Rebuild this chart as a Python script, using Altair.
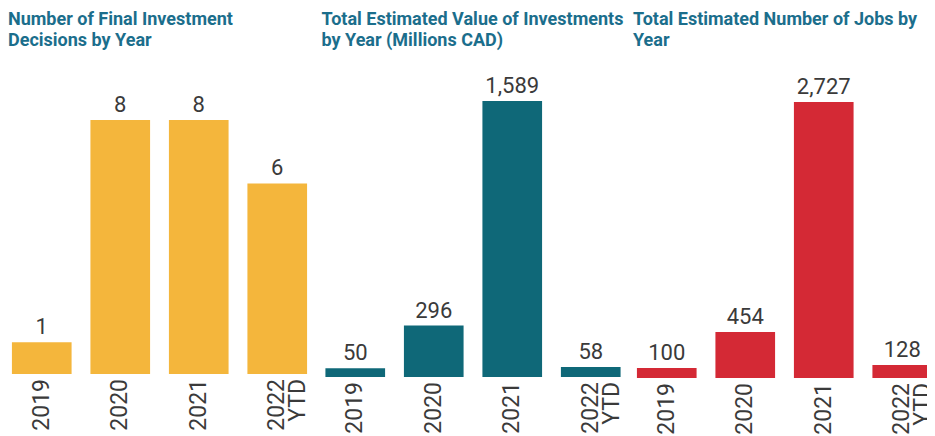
import altair as alt
import pandas as pd

years = ["2019", "2020", "2021", "2022 YTD"]
fids = [1, 8, 8, 6]
values = [50, 296, 1589, 58]
jobs = [100, 454, 2727, 128]

titles = [
    ["Number of Final Investment", "Decisions by Year"],
    ["Total Estimated Value of Investments", "by Year (Millions CAD)"],
    ["Total Estimated Number of Jobs by", "Year"],
]
colors = ["#F4B63C", "#0F6878", "#D42935"]
# y-scale domains (room above bars, room below baseline for the year labels)
ydomains = [[-2.110, 9.669], [-368.5, 1784.8], [-622.5, 3072.8]]
widths = [305, 303, 294]

H = 374


def panel(vals, title, color, ydom, w):
    df = pd.DataFrame({"year": years, "v": vals})
    x = alt.X(
        "year:N",
        sort=years,
        title=None,
        axis=None,
        scale=alt.Scale(range=[0, 303], paddingInner=0.24, paddingOuter=0.05),
    )
    y = alt.Y("v:Q", scale=alt.Scale(domain=ydom, nice=False, zero=True), axis=None)
    base = alt.Chart(df).encode(x=x)
    bars = base.mark_bar(color=color, clip=True).encode(y=y)
    vlabels = base.mark_text(
        baseline="alphabetic", dy=-8, fontSize=22, font="Roboto", color="#3a3a3a", clip=True
    ).encode(y=y, text=alt.Text("v:Q", format=",d"))
    xlabels = base.mark_text(
        angle=270,
        align="right",
        baseline="middle",
        dx=-5,
        fontSize=23,
        lineHeight=21,
        lineBreak=" ",
        font="Roboto",
        color="#3a3a3a",
        clip=True,
    ).encode(y=alt.datum(0, scale=alt.Scale(domain=ydom, nice=False)), text="year:N")
    return alt.layer(bars, vlabels, xlabels).properties(
        width=w,
        height=H,
        title=alt.TitleParams(
            text=title,
            anchor="start",
            fontSize=18,
            font="Roboto",
            fontWeight="bold",
            color="#1B6E8C",
            lineHeight=21,
            baseline="alphabetic",
            offset=3,
        ),
    )


chart = (
    alt.hconcat(
        *[
            panel(v, t, c, d, w)
            for v, t, c, d, w in zip([fids, values, jobs], titles, colors, ydomains, widths)
        ],
        spacing=8.5,
    )
    .properties(padding={"left": 0, "top": 3, "right": 0, "bottom": 0})
    .configure(background="white", view=alt.ViewConfig(stroke="transparent", strokeWidth=0))
)

chart.save("out.html", embed_options={"renderer": "svg", "actions": False})
